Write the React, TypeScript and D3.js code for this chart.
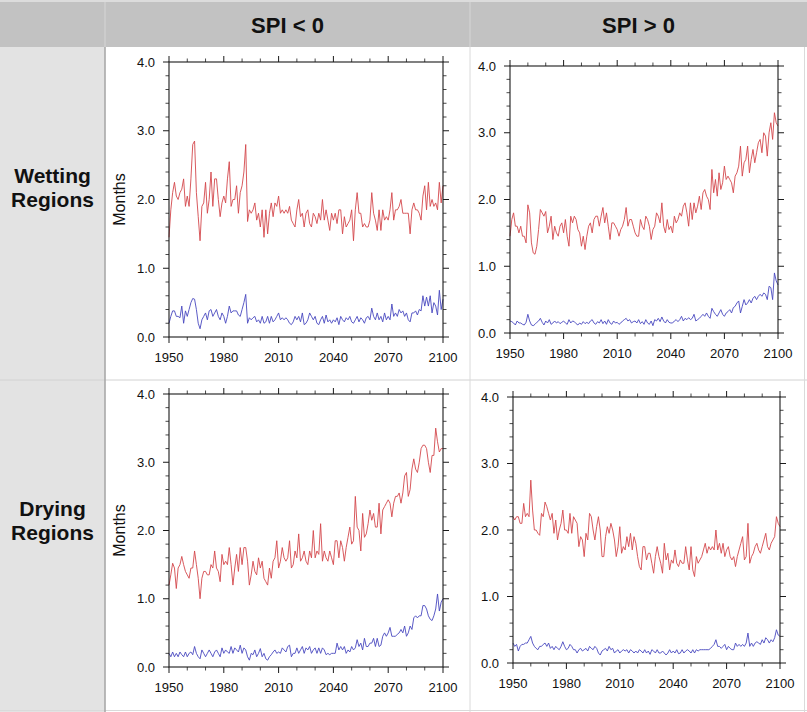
import React from 'react';
import * as d3 from 'd3';

const START_YEAR = 1950;
const END_YEAR = 2100;
const xTickYears = [1950, 1980, 2010, 2040, 2070, 2100];
const yTickValues = [0, 1, 2, 3, 4];
const yTickLabels = ['0.0', '1.0', '2.0', '3.0', '4.0'];
const columnTitles = ['SPI < 0', 'SPI > 0'];
const rowTitles = [['Wetting', 'Regions'], ['Drying', 'Regions']];
const yAxisTitle = 'Months';

// Wetting regions, SPI < 0
const wetNegRed = [
  1.45, 1.85, 2.1, 2.25, 2.05, 2.0, 2.1, 2.15, 2.3, 1.9,
  2.05, 1.9, 2.3, 2.8, 2.85, 2.1, 1.75, 1.4, 1.9, 1.95,
  2.25, 1.8, 2.0, 2.4, 1.9, 2.3, 2.3, 2.0, 1.75, 1.95,
  2.05, 1.95, 2.3, 2.55, 1.9, 2.0, 2.0, 2.2, 1.8, 2.1,
  2.2, 2.4, 2.8, 1.68, 1.85, 1.8, 1.85, 1.95, 1.7, 1.8,
  1.6, 1.85, 1.45, 1.85, 1.5, 1.8, 1.95, 1.75, 1.95, 1.9,
  2.05, 1.8, 1.85, 1.8, 1.85, 1.8, 1.9, 1.7, 1.65, 1.6,
  1.85, 2.0, 1.75, 1.8, 1.6, 1.8, 1.85, 1.65, 1.6, 1.8,
  1.75, 1.65, 1.8, 1.7, 2.0, 1.7, 1.85, 1.7, 1.55, 1.8,
  1.7, 1.8, 1.65, 1.85, 1.85, 1.5, 1.75, 1.6, 1.65, 1.7,
  1.85, 1.4, 1.85, 2.1, 1.8, 1.8, 1.6, 1.65, 1.6, 1.6,
  1.7, 2.1, 1.8, 1.7, 1.55, 1.85, 1.55, 1.85, 1.7, 1.75,
  1.7, 1.85, 2.1, 1.7, 1.85, 1.85, 1.9, 2.0, 1.8, 1.8,
  1.8, 1.8, 1.5, 1.85, 1.95, 1.85, 1.85, 1.8, 1.7, 2.05,
  2.2, 1.85, 2.25, 1.9, 2.0, 1.9, 1.95, 1.85, 2.25, 1.95,
  2.2,
];
const wetNegBlue = [
  0.2, 0.3, 0.38, 0.38, 0.3, 0.3, 0.28, 0.45, 0.2, 0.38,
  0.3, 0.4, 0.5, 0.56, 0.55, 0.4, 0.2, 0.12, 0.25, 0.3,
  0.35, 0.25, 0.38, 0.4, 0.3, 0.35, 0.4, 0.3, 0.25, 0.35,
  0.3, 0.2, 0.3, 0.45, 0.35, 0.38, 0.38, 0.38, 0.32, 0.3,
  0.4, 0.5, 0.62, 0.2, 0.28, 0.25, 0.28, 0.3, 0.22, 0.25,
  0.2, 0.3, 0.2, 0.22, 0.3, 0.2, 0.3, 0.22, 0.25, 0.3,
  0.35, 0.25, 0.28, 0.25, 0.28, 0.25, 0.2, 0.18, 0.22, 0.3,
  0.25, 0.3, 0.22, 0.35, 0.18, 0.2, 0.25, 0.35, 0.3, 0.25,
  0.3, 0.2, 0.18, 0.25, 0.3, 0.2, 0.32, 0.22, 0.25, 0.2,
  0.25, 0.22, 0.28, 0.18, 0.3, 0.25, 0.22, 0.28, 0.25, 0.3,
  0.22, 0.2, 0.25, 0.3, 0.22, 0.28, 0.25, 0.2, 0.28, 0.3,
  0.25, 0.42, 0.3, 0.25, 0.35, 0.25, 0.3, 0.22, 0.35, 0.25,
  0.3, 0.25, 0.48, 0.3, 0.35, 0.3, 0.4, 0.35, 0.38, 0.3,
  0.35, 0.25, 0.22, 0.35, 0.35, 0.38, 0.32, 0.4, 0.38, 0.6,
  0.45, 0.58, 0.45, 0.6, 0.35, 0.5, 0.45, 0.32, 0.68, 0.4,
  0.55,
];

// Wetting regions, SPI > 0
const wetPosRed = [
  1.45, 1.7, 1.8, 1.6, 1.6, 1.5, 1.6, 1.45, 1.45, 1.35,
  1.92, 1.8, 1.35, 1.2, 1.18, 1.3, 1.55, 1.85, 1.8, 1.75,
  1.82, 1.5, 1.6, 1.75, 1.4, 1.6, 1.5, 1.45, 1.6, 1.65,
  1.5, 1.7, 1.45, 1.3, 1.75, 1.65, 1.75, 1.7, 1.55, 1.5,
  1.3, 1.45, 1.25, 1.45, 1.6, 1.65, 1.5, 1.7, 1.75, 1.75,
  1.6, 1.75, 1.88, 1.65, 1.8, 1.6, 1.4, 1.65, 1.65, 1.6,
  1.55, 1.45, 1.55, 1.6, 1.7, 1.88, 1.6, 1.7, 1.7, 1.6,
  1.5, 1.45, 1.45, 1.7, 1.6, 1.55, 1.75, 1.7, 1.6, 1.4,
  1.55, 1.6, 1.8, 1.75, 1.65, 1.95, 1.6, 1.5, 1.7, 1.55,
  1.6, 1.5, 1.75, 1.65, 1.7, 1.8, 1.75, 1.9, 1.95, 1.8,
  1.6, 1.95, 1.7, 1.95, 1.8, 1.9, 2.05, 1.85, 2.1, 2.15,
  2.05, 2.0, 1.85, 2.45, 2.1, 2.3, 2.05, 2.4, 2.15, 2.25,
  2.5, 2.3, 2.35, 2.3, 2.25, 2.1, 2.35, 2.4, 2.5, 2.8,
  2.35, 2.55, 2.6, 2.8, 2.4, 2.6, 2.75, 2.55, 2.7, 2.85,
  2.9, 2.7, 3.0, 2.95, 2.65, 3.0, 3.15, 2.9, 3.3, 3.15,
  3.1,
];
const wetPosBlue = [
  0.18, 0.17, 0.15, 0.12, 0.18, 0.15, 0.15, 0.13, 0.12, 0.16,
  0.28, 0.18, 0.12, 0.11, 0.13, 0.16, 0.18, 0.22, 0.16, 0.12,
  0.18, 0.15, 0.2, 0.13, 0.15, 0.18, 0.15, 0.17, 0.14, 0.16,
  0.18, 0.15, 0.13, 0.2, 0.15, 0.18, 0.17, 0.14, 0.12, 0.15,
  0.13, 0.17, 0.14, 0.16, 0.14, 0.18, 0.2, 0.15, 0.13, 0.17,
  0.15, 0.2, 0.14, 0.18, 0.13, 0.2, 0.15, 0.13, 0.18, 0.15,
  0.16, 0.13, 0.15, 0.18, 0.2, 0.22, 0.18, 0.2, 0.15, 0.17,
  0.18, 0.15, 0.2, 0.14, 0.17, 0.13, 0.2, 0.15, 0.13, 0.18,
  0.11, 0.2, 0.18, 0.22, 0.17, 0.24, 0.18, 0.15, 0.2, 0.16,
  0.15, 0.15, 0.18, 0.2, 0.17, 0.2, 0.25, 0.18, 0.22, 0.2,
  0.23, 0.2, 0.22, 0.28, 0.18, 0.2, 0.22, 0.25, 0.28, 0.25,
  0.3, 0.25, 0.22, 0.37, 0.32, 0.28, 0.25, 0.3, 0.35, 0.28,
  0.25, 0.3, 0.32, 0.35, 0.3, 0.38, 0.4, 0.45, 0.48, 0.3,
  0.4, 0.5, 0.42, 0.45, 0.5, 0.45, 0.52, 0.55, 0.5, 0.55,
  0.58, 0.55, 0.6, 0.58, 0.5, 0.7, 0.68, 0.5, 0.9, 0.78,
  0.72,
];

// Drying regions, SPI < 0
const dryNegRed = [
  1.2, 1.35, 1.52, 1.45, 1.15, 1.45, 1.5, 1.62, 1.5, 1.4,
  1.35, 1.3, 1.45, 1.45, 1.7, 1.5, 1.3, 1.0, 1.3, 1.4,
  1.4, 1.35, 1.35, 1.5, 1.45, 1.7, 1.45, 1.4, 1.25, 1.65,
  1.5, 1.55, 1.5, 1.75, 1.5, 1.2, 1.45, 1.65, 1.4, 1.75,
  1.5, 1.75, 1.75, 1.55, 1.2, 1.35, 1.55, 1.4, 1.35, 1.6,
  1.45, 1.55, 1.3, 1.25, 1.2, 1.45, 1.3, 1.55, 1.6, 1.85,
  1.45, 1.55, 1.75, 1.6, 1.55, 1.6, 1.85, 1.45, 1.5, 1.7,
  1.6, 1.95, 1.55, 1.6, 1.7, 1.55, 1.5, 1.7, 1.6, 2.0,
  1.6, 1.7, 1.65, 2.1, 1.55, 1.7, 1.6, 1.55, 1.7, 1.6,
  1.5, 1.85, 1.85, 1.6, 1.85, 1.75, 1.55, 1.75, 1.9, 2.05,
  1.8, 1.85, 2.5, 2.05, 2.0, 1.7, 2.25, 1.9, 1.95, 2.1,
  2.3, 2.15, 2.25, 2.05, 2.05, 2.4, 1.95, 2.3, 2.35, 2.4,
  2.45, 2.4, 2.2, 2.4, 2.5, 2.5, 2.55, 2.4, 2.55, 2.8,
  2.85, 2.5, 2.6, 2.9, 3.05, 2.9, 2.85, 3.0, 3.2, 3.25,
  3.25, 3.2, 3.0, 2.85, 3.1, 3.1, 3.5, 3.3, 3.15, 3.2,
  3.2,
];
const dryNegBlue = [
  0.2, 0.15, 0.22, 0.15, 0.2, 0.15, 0.22, 0.18, 0.15, 0.22,
  0.15, 0.2, 0.22, 0.18, 0.3, 0.2, 0.15, 0.12, 0.25, 0.2,
  0.15, 0.2, 0.25, 0.2, 0.15, 0.22, 0.25, 0.2, 0.15, 0.28,
  0.2, 0.25, 0.22, 0.2, 0.3, 0.2, 0.28, 0.25, 0.22, 0.32,
  0.2, 0.28, 0.25, 0.15, 0.1, 0.2, 0.18, 0.25, 0.15, 0.2,
  0.27, 0.15, 0.2, 0.12, 0.1, 0.15, 0.18, 0.22, 0.25, 0.2,
  0.22, 0.2, 0.28, 0.25, 0.22, 0.3, 0.32, 0.15, 0.2, 0.2,
  0.28, 0.2, 0.25, 0.3, 0.2, 0.28, 0.25, 0.3, 0.2, 0.25,
  0.28, 0.2, 0.28, 0.2, 0.28, 0.25, 0.18, 0.2, 0.18, 0.2,
  0.2, 0.2, 0.35, 0.25, 0.3, 0.25, 0.3, 0.2, 0.25, 0.22,
  0.3, 0.25, 0.28, 0.4, 0.3, 0.35, 0.25, 0.42, 0.3, 0.3,
  0.35, 0.35, 0.42, 0.3, 0.42, 0.3, 0.32, 0.45, 0.5, 0.45,
  0.5, 0.58, 0.45, 0.45, 0.45, 0.48, 0.5, 0.55, 0.5, 0.6,
  0.45, 0.5, 0.6, 0.55, 0.72, 0.75, 0.72, 0.75, 0.75, 0.9,
  0.9, 0.85, 0.75, 0.7, 0.68, 0.75, 0.85, 1.07, 0.82, 0.95,
  1.0,
];

// Drying regions, SPI > 0
const dryPosRed = [
  2.2, 2.15, 2.2, 2.2, 2.1, 2.1, 2.4, 2.2, 2.25, 2.2,
  2.75, 2.3, 2.0, 2.0, 1.95, 1.92, 2.25, 2.2, 2.42, 2.35,
  2.25, 2.15, 2.25, 1.95, 2.15, 1.85, 2.0, 2.1, 2.3, 2.0,
  2.0, 1.95, 2.25, 1.95, 2.2, 2.15, 2.1, 1.75, 1.9, 1.85,
  1.6, 1.95, 1.85, 2.25, 2.2, 2.0, 1.85, 2.05, 2.2, 2.0,
  1.6, 1.6, 1.9, 2.05, 1.95, 2.1, 2.0, 1.85, 1.6, 1.75,
  2.05, 1.65, 1.75, 1.7, 1.9, 1.75, 1.95, 1.7, 1.9, 1.8,
  1.6, 1.45, 1.4, 1.75, 1.75, 1.55, 1.65, 1.65, 1.5, 1.35,
  1.6, 1.75, 1.6, 1.5, 1.35, 1.8, 1.55, 1.65, 1.4, 1.55,
  1.5, 1.7, 1.5, 1.45, 1.55, 1.5, 1.5, 1.75, 1.55, 1.4,
  1.75, 1.4, 1.3, 1.6, 1.5, 1.55, 1.6, 1.7, 1.8, 1.65,
  1.75, 1.7, 1.75, 1.7, 2.0, 1.7, 1.8, 1.65, 1.8, 1.6,
  1.7, 1.75, 1.6, 1.55, 1.6, 1.45, 1.6, 1.7, 1.8, 1.9,
  1.55, 1.6, 2.1, 1.5, 1.6, 1.65, 1.75, 1.8, 1.7, 1.65,
  1.75, 1.85, 1.95, 1.75, 1.7, 1.8, 1.85, 1.9, 2.2, 2.1,
  2.05,
];
const dryPosBlue = [
  0.3, 0.25, 0.28, 0.18, 0.25, 0.28, 0.28, 0.3, 0.3, 0.35,
  0.4, 0.3, 0.25, 0.22, 0.2, 0.25, 0.25, 0.28, 0.3, 0.25,
  0.3, 0.22, 0.25, 0.2, 0.25, 0.22, 0.2, 0.25, 0.32, 0.25,
  0.2, 0.22, 0.28, 0.25, 0.2, 0.2, 0.15, 0.2, 0.22, 0.18,
  0.2, 0.22, 0.18, 0.25, 0.22, 0.2, 0.25, 0.22, 0.15, 0.12,
  0.18, 0.2, 0.22, 0.18, 0.25, 0.2, 0.22, 0.15, 0.18, 0.2,
  0.15, 0.18, 0.2, 0.18, 0.2, 0.15, 0.2, 0.18, 0.15, 0.18,
  0.15, 0.2, 0.18, 0.15, 0.2, 0.15, 0.18, 0.13, 0.2, 0.18,
  0.15, 0.2, 0.15, 0.15, 0.18, 0.15, 0.12, 0.15, 0.2, 0.15,
  0.18, 0.15, 0.2, 0.14, 0.15, 0.2, 0.15, 0.18, 0.2, 0.18,
  0.15, 0.2, 0.15, 0.2, 0.18, 0.2, 0.2, 0.2, 0.2, 0.2,
  0.2, 0.22, 0.25, 0.28, 0.35, 0.25, 0.25, 0.22, 0.25, 0.28,
  0.2, 0.25, 0.22, 0.2, 0.2, 0.3, 0.25, 0.28, 0.25, 0.28,
  0.25, 0.3, 0.45, 0.25, 0.3, 0.25, 0.3, 0.32, 0.3, 0.28,
  0.35, 0.3, 0.38, 0.35, 0.3, 0.35, 0.32, 0.38, 0.5, 0.42,
  0.4,
];

const W = 807;
const H = 712;
const FONT = '"Liberation Sans", Arial, Helvetica, sans-serif';
const RED = '#d4474c';
const BLUE = '#4848c0';
const AXIS = '#1a1a1a';

const panels = [
  { x0: 169, x1: 443, y0: 62, y1: 337, red: wetNegRed, blue: wetNegBlue, months: true },
  { x0: 510, x1: 778, y0: 66, y1: 333, red: wetPosRed, blue: wetPosBlue, months: false },
  { x0: 169, x1: 443, y0: 394, y1: 667, red: dryNegRed, blue: dryNegBlue, months: true },
  { x0: 513, x1: 780, y0: 397, y1: 663, red: dryPosRed, blue: dryPosBlue, months: false },
];

function Panel({ p }: { p: typeof panels[number] }) {
  const x = d3.scaleLinear().domain([START_YEAR, END_YEAR]).range([p.x0, p.x1]);
  const y = d3.scaleLinear().domain([0, 4]).range([p.y1, p.y0]);
  const line = d3
    .line<number>()
    .x((_, i) => x(START_YEAR + i))
    .y((d) => y(d));
  const xMinor = d3.range(START_YEAR, END_YEAR + 1, 10).filter((v) => !xTickYears.includes(v));
  const yMinor = d3.range(0, 21).map((k) => k * 0.2).filter((v) => Math.abs(v - Math.round(v)) > 1e-6);
  const MAJ = 6;
  const MIN = 3.5;
  return (
    <g>
      <path d={line(p.red) || ''} fill="none" stroke={RED} strokeWidth={0.9} />
      <path d={line(p.blue) || ''} fill="none" stroke={BLUE} strokeWidth={0.9} />
      <rect x={p.x0} y={p.y0} width={p.x1 - p.x0} height={p.y1 - p.y0} fill="none" stroke={AXIS} strokeWidth={1.1} />
      {xTickYears.map((v) => (
        <g key={'xm' + v}>
          <line x1={x(v)} x2={x(v)} y1={p.y1} y2={p.y1 + MAJ} stroke={AXIS} strokeWidth={1} />
          <line x1={x(v)} x2={x(v)} y1={p.y0} y2={p.y0 - MAJ} stroke={AXIS} strokeWidth={1} />
          <text x={x(v)} y={p.y1 + 25} textAnchor="middle" fontFamily={FONT} fontSize={13} fill="#111">
            {v}
          </text>
        </g>
      ))}
      {xMinor.map((v) => (
        <g key={'xn' + v}>
          <line x1={x(v)} x2={x(v)} y1={p.y1} y2={p.y1 + MIN} stroke={AXIS} strokeWidth={0.8} />
          <line x1={x(v)} x2={x(v)} y1={p.y0} y2={p.y0 - MIN} stroke={AXIS} strokeWidth={0.8} />
        </g>
      ))}
      {yTickValues.map((v, i) => (
        <g key={'ym' + v}>
          <line x1={p.x0} x2={p.x0 - MAJ} y1={y(v)} y2={y(v)} stroke={AXIS} strokeWidth={1} />
          <line x1={p.x1} x2={p.x1 + MAJ} y1={y(v)} y2={y(v)} stroke={AXIS} strokeWidth={1} />
          <text x={p.x0 - 14} y={y(v) + 4.5} textAnchor="end" fontFamily={FONT} fontSize={13} fill="#111">
            {yTickLabels[i]}
          </text>
        </g>
      ))}
      {yMinor.map((v) => (
        <g key={'yn' + v}>
          <line x1={p.x0} x2={p.x0 - MIN} y1={y(v)} y2={y(v)} stroke={AXIS} strokeWidth={0.8} />
          <line x1={p.x1} x2={p.x1 + MIN} y1={y(v)} y2={y(v)} stroke={AXIS} strokeWidth={0.8} />
        </g>
      ))}
      {p.months && (
        <text
          transform={`translate(${p.x0 - 44},${(p.y0 + p.y1) / 2}) rotate(-90)`}
          textAnchor="middle"
          fontFamily={FONT}
          fontSize={16}
          fill="#111"
        >
          {yAxisTitle}
        </text>
      )}
    </g>
  );
}

export default function App() {
  const headerH = 47;
  const rowSplit = 380;
  const colSplit = 470;
  const leftW = 105;
  return (
    <svg width={W} height={H} style={{ position: 'absolute', left: 0, top: 0, display: 'block' }}>
      <rect x={0} y={0} width={W} height={H} fill="#ffffff" />
      <rect x={0} y={0} width={W} height={headerH} fill="#c2c2c2" />
      <rect x={0} y={0} width={W} height={2} fill="#dcdcdc" />
      <rect x={0} y={headerH} width={leftW} height={H - headerH} fill="#e3e3e3" />
      <line x1={leftW} x2={leftW} y1={2} y2={headerH} stroke="#d6d6d6" strokeWidth={1} />
      <line x1={colSplit} x2={colSplit} y1={2} y2={headerH} stroke="#d6d6d6" strokeWidth={1} />
      <line x1={0} x2={W} y1={rowSplit} y2={rowSplit} stroke="#d2d2d2" strokeWidth={1} />
      <line x1={colSplit} x2={colSplit} y1={headerH} y2={H} stroke="#dadada" strokeWidth={1} />
      <line x1={W - 2.5} x2={W - 2.5} y1={headerH} y2={H} stroke="#dadada" strokeWidth={1} />
      <line x1={0} x2={W} y1={H - 1.5} y2={H - 1.5} stroke="#dadada" strokeWidth={1} />
      <line x1={leftW} x2={leftW} y1={headerH} y2={H} stroke="#a9a9a9" strokeWidth={1.6} />
      {columnTitles.map((t, i) => (
        <text
          key={t}
          x={i === 0 ? (leftW + colSplit) / 2 : (colSplit + W) / 2}
          y={33}
          textAnchor="middle"
          fontFamily={FONT}
          fontWeight="bold"
          fontSize={22}
          fill="#111"
        >
          {t}
        </text>
      ))}
      {rowTitles.map((lines, r) => (
        <text
          key={r}
          x={leftW / 2}
          y={r === 0 ? 183 : 516}
          textAnchor="middle"
          fontFamily={FONT}
          fontWeight="bold"
          fontSize={21}
          fill="#111"
        >
          {lines.map((l, k) => (
            <tspan key={k} x={leftW / 2} dy={k === 0 ? 0 : 24}>
              {l}
            </tspan>
          ))}
        </text>
      ))}
      {panels.map((p, i) => (
        <Panel key={i} p={p} />
      ))}
    </svg>
  );
}
